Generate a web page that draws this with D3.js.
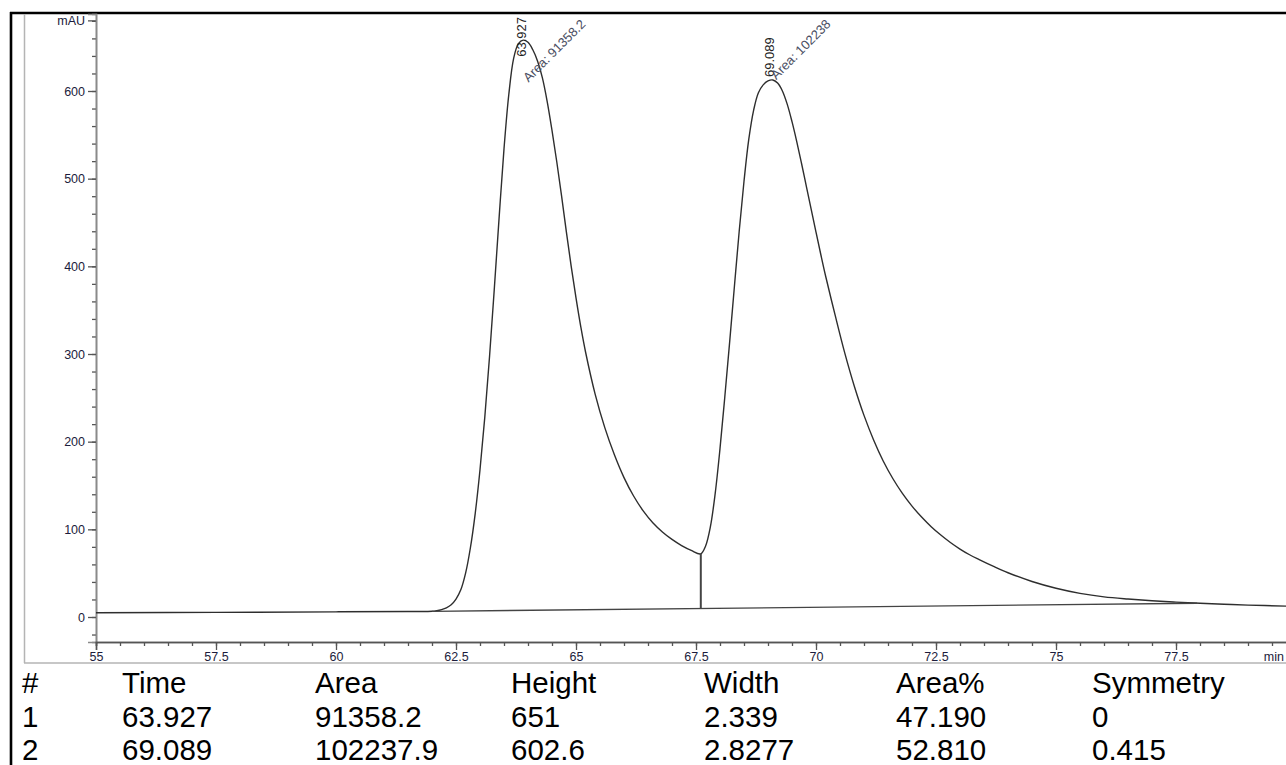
<!DOCTYPE html>
<html>
<head>
<meta charset="utf-8">
<script src="https://cdn.jsdelivr.net/npm/d3@7"></script>
<style>
  html, body { margin: 0; padding: 0; background: #fff; }
  svg { display: block; }
  text { font-family: "Liberation Sans", Arial, Helvetica, sans-serif; }
</style>
</head>
<body>
<svg id="chart" width="1286" height="765"></svg>
<script>
// Detector signal (mAU) against retention time (min)
const timeMin = [
  55.0, 57.5, 60.0, 61.5,
  62.0, 62.1, 62.2, 62.3, 62.4, 62.5, 62.6, 62.7, 62.8, 62.9,
  63.0, 63.1, 63.2, 63.3, 63.4, 63.5, 63.6, 63.7, 63.8, 63.9,
  64.0, 64.1, 64.2, 64.3, 64.4, 64.5, 64.6, 64.7, 64.8, 64.9,
  65.0, 65.1, 65.2, 65.4, 65.6, 65.8, 66.0, 66.2, 66.4, 66.6,
  66.8, 67.0, 67.2, 67.4, 67.6, 67.7, 67.8, 67.9,
  68.0, 68.1, 68.2, 68.3, 68.4, 68.5, 68.6, 68.7, 68.8, 68.9,
  69.0, 69.1, 69.2, 69.3, 69.4, 69.5, 69.6, 69.7, 69.8, 69.9,
  70.0, 70.1, 70.2, 70.4, 70.6, 70.8, 71.0, 71.2, 71.4, 71.6,
  71.8, 72.0, 72.2, 72.4, 72.6, 72.8, 73.0, 73.2, 73.4, 73.7,
  74.0, 74.5, 75.0, 75.5, 76.0, 76.5, 77.0, 77.5, 78.0, 78.5,
  79.0, 79.8
];
const signalMAU = [
  4.8, 5.3, 5.9, 6.3,
  6.5, 7.2, 8.5, 10.5, 14, 20.5, 31, 50, 79, 118,
  168, 228, 298, 376, 457, 534, 596, 637, 654, 658,
  655.5, 647, 634, 615, 588, 555, 519, 480, 439, 400,
  364, 331, 302, 254, 216, 185, 159, 138, 121, 107.5,
  97, 88.5, 81.5, 76, 72, 81, 103, 141,
  192, 251, 313, 377, 440, 497, 545, 578, 598, 607,
  611.5, 612.6, 609, 600, 585, 565, 542, 517, 491, 465,
  439, 413.5, 389, 344, 301, 263, 230, 202, 178, 158,
  141, 126.5, 114, 103, 93.5, 85, 77.5, 71, 65.5, 57.7,
  50.5, 40.5, 32.8, 27, 23, 20.5, 18.5, 17, 15.6, 14.5,
  13.6, 12.4
];

// Integration: baseline from peak start to peak end, with a drop line at the valley
const baselineTime = [62.0, 77.94];
const baselineMAU = [6.5, 15.7];
const dropLineTime = 67.60;
const dropLineTopMAU = 72;

// Peak annotations
const peakRT = [63.927, 69.089];
const peakApexMAU = [658, 612.6];
const peakAreaLabel = ["Area: 91358.2", "Area: 102238"];

// Axis ticks
const xMajorTicks = [55, 57.5, 60, 62.5, 65, 67.5, 70, 72.5, 75, 77.5];
const xTickLabels = ["55", "57.5", "60", "62.5", "65", "67.5", "70", "72.5", "75", "77.5"];
const yMajorTicks = [0, 100, 200, 300, 400, 500, 600];
const yTickLabels = ["0", "100", "200", "300", "400", "500", "600"];

// Peak table
const tableHeaders = ["#", "Time", "Area", "Height", "Width", "Area%", "Symmetry"];
const peakNo = ["1", "2"];
const peakTime = ["63.927", "69.089"];
const peakArea = ["91358.2", "102237.9"];
const peakHeight = ["651", "602.6"];
const peakWidth = ["2.339", "2.8277"];
const peakAreaPct = ["47.190", "52.810"];
const peakSymmetry = ["0", "0.415"];

const svg = d3.select("#chart");
svg.append("rect").attr("width", 1286).attr("height", 765).attr("fill", "#fff");

const x = d3.scaleLinear().domain([55, 80]).range([96, 1296]);
const y = d3.scaleLinear().domain([0, 600]).range([617, 91]);

const axisTop = 14, axisBottom = 642;
const yAxisScale = y.copy().domain([y.invert(axisBottom), y.invert(axisTop)]).range([axisBottom, axisTop]);

// Outer page frame
const frame = svg.append("g");
frame.append("line").attr("x1", 11).attr("x2", 11).attr("y1", 12).attr("y2", 765)
  .attr("stroke", "#000").attr("stroke-width", 2.6);
frame.append("line").attr("x1", 10).attr("x2", 1286).attr("y1", 13).attr("y2", 13)
  .attr("stroke", "#000").attr("stroke-width", 2.6);
frame.append("line").attr("x1", 24.5).attr("x2", 24.5).attr("y1", 14).attr("y2", 663)
  .attr("stroke", "#b4b4b4").attr("stroke-width", 1.5);
frame.append("line").attr("x1", 24).attr("x2", 1286).attr("y1", 663).attr("y2", 663)
  .attr("stroke", "#b4b4b4").attr("stroke-width", 1.5);

const tickColor = "#555";
const labelColor = "#1c1c3c";

// Y axis: minor ticks every 20 mAU, labelled majors every 100
const yMinor = d3.range(-20, 681, 20);
const gyMinor = svg.append("g").attr("transform", "translate(96,0)")
  .call(d3.axisLeft(yAxisScale).tickValues(yMinor).tickSize(4).tickFormat(""));
const gy = svg.append("g").attr("transform", "translate(96,0)")
  .call(d3.axisLeft(yAxisScale).tickValues(yMajorTicks).tickSize(8).tickPadding(3)
    .tickFormat((d, i) => yTickLabels[i]));
[gyMinor, gy].forEach(g => {
  g.select(".domain").attr("stroke", "#8a8a8a").attr("stroke-width", 1.6);
  g.selectAll(".tick line").attr("stroke", tickColor).attr("stroke-width", 1.3);
});
gy.selectAll(".tick text").attr("fill", labelColor).attr("font-size", 12.5)
  .attr("font-family", "Liberation Sans, Arial, sans-serif");
gy.append("text").attr("x", -11).attr("y", yAxisScale(680)).attr("dy", "0.32em")
  .attr("text-anchor", "end").attr("fill", labelColor).attr("font-size", 12.5)
  .text("mAU");
gyMinor.append("line").attr("x1", -8).attr("x2", 0)
  .attr("y1", yAxisScale(680)).attr("y2", yAxisScale(680))
  .attr("stroke", tickColor).attr("stroke-width", 1.3);

// X axis: minor ticks every 0.5 min, labelled majors every 2.5 min
const xMinor = d3.range(55, 80, 0.5);
const gxMinor = svg.append("g").attr("transform", `translate(0,${axisBottom})`)
  .call(d3.axisBottom(x).tickValues(xMinor).tickSize(4).tickFormat(""));
const gx = svg.append("g").attr("transform", `translate(0,${axisBottom})`)
  .call(d3.axisBottom(x).tickValues(xMajorTicks).tickSize(8).tickPadding(2)
    .tickFormat((d, i) => xTickLabels[i]));
[gxMinor, gx].forEach(g => {
  g.select(".domain").attr("stroke", "#555").attr("stroke-width", 1.5);
  g.selectAll(".tick line").attr("stroke", tickColor).attr("stroke-width", 1.3);
});
gx.selectAll(".tick text").attr("fill", labelColor).attr("font-size", 12.5)
  .attr("font-family", "Liberation Sans, Arial, sans-serif");
gx.append("text").attr("x", 1284).attr("y", 19).attr("text-anchor", "end")
  .attr("fill", labelColor).attr("font-size", 12.5).text("min");

// Chromatogram trace
const points = timeMin.map((t, i) => [t, signalMAU[i]]);
const line = d3.line().x(d => x(d[0])).y(d => y(d[1])).curve(d3.curveCatmullRom.alpha(0.5));
svg.append("path").datum(points).attr("d", line)
  .attr("fill", "none").attr("stroke", "#2e2e2e").attr("stroke-width", 1.4);

// Integration baseline and drop line
svg.append("line")
  .attr("x1", x(baselineTime[0])).attr("y1", y(baselineMAU[0]))
  .attr("x2", x(baselineTime[1])).attr("y2", y(baselineMAU[1]))
  .attr("stroke", "#444").attr("stroke-width", 1.3);
const dropBase = baselineMAU[0] + (dropLineTime - baselineTime[0]) /
  (baselineTime[1] - baselineTime[0]) * (baselineMAU[1] - baselineMAU[0]);
svg.append("line")
  .attr("x1", x(dropLineTime)).attr("x2", x(dropLineTime))
  .attr("y1", y(dropLineTopMAU)).attr("y2", y(dropBase))
  .attr("stroke", "#444").attr("stroke-width", 2);

// Peak labels: retention time (vertical) and area (diagonal), kept below the top frame
const rtLabelTop = 17, areaLabelTop = 25;
peakRT.forEach((rt, i) => {
  const ax = x(rt), ay = y(peakApexMAU[i]);
  const rtText = svg.append("text").attr("font-size", 13).attr("fill", "#222")
    .text(rt.toFixed(3));
  const rtLen = rtText.node().getComputedTextLength();
  const rtBottom = Math.max(ay - 3, rtLabelTop + rtLen);
  rtText.attr("transform", `translate(${ax + 2},${rtBottom}) rotate(-90)`);

  const areaText = svg.append("text").attr("font-size", 13).attr("fill", "#4a4e62")
    .text(peakAreaLabel[i]);
  const areaLen = areaText.node().getComputedTextLength();
  const areaStart = Math.max(ay - 2, areaLabelTop + areaLen * Math.SQRT1_2);
  areaText.attr("transform", `translate(${ax + 4},${areaStart}) rotate(-45)`);
});

// Peak table
const colX = [22, 122, 315, 511, 704, 896, 1092];
const rowY = [693, 727, 760];
const columns = [peakNo, peakTime, peakArea, peakHeight, peakWidth, peakAreaPct, peakSymmetry];
const table = svg.append("g").attr("font-size", 29.5).attr("fill", "#000");
tableHeaders.forEach((h, c) => {
  table.append("text").attr("x", colX[c]).attr("y", rowY[0]).text(h);
  columns[c].forEach((v, r) => {
    table.append("text").attr("x", colX[c]).attr("y", rowY[r + 1]).text(v);
  });
});
</script>
</body>
</html>
